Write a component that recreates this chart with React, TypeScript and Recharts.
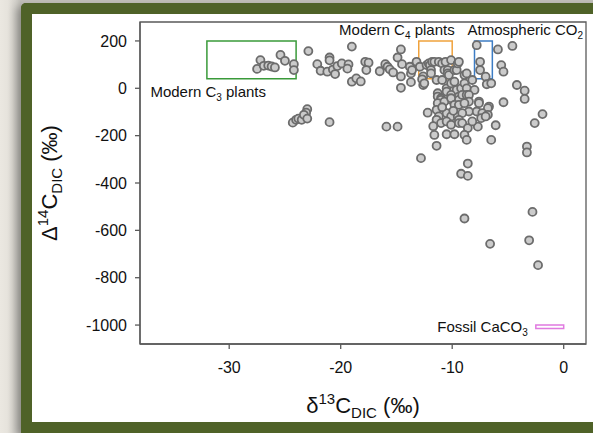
import React from "react";
import {
  ScatterChart,
  Scatter,
  XAxis,
  YAxis,
  ReferenceArea,
  Label,
} from "recharts";

// δ13C_DIC (‰) vs Δ14C_DIC (‰) samples, grouped by where they fall on the plot
const c3RangeSamples: [number, number][] = [
  [-27.5, 82], [-27.2, 119], [-26.9, 95], [-26.5, 96], [-26.2, 92],
  [-25.9, 88], [-25.4, 141], [-25.0, 116], [-24.2, 102], [-24.2, 77],
];

const midRangeSamples: [number, number][] = [
  [-22.9, 157], [-22.1, 102], [-21.8, 74], [-21.0, 130], [-21.0, 118],
  [-21.2, 70], [-20.7, 79], [-20.5, 60], [-20.3, 94], [-19.9, 105],
  [-19.3, 101], [-19.4, 83], [-19.0, 176], [-19.0, 28], [-18.6, 42],
  [-18.2, 29], [-17.8, 112], [-17.5, 108], [-17.7, 77],
];

const depletedLightSamples: [number, number][] = [
  [-24.3, -145], [-24.0, -133], [-23.8, -128], [-23.5, -133], [-23.0, -88],
  [-23.1, -103], [-23.3, -112], [-23.0, -128], [-21.0, -143], [-15.9, -162],
  [-14.9, -162],
];

const upperSamples: [number, number][] = [
  [-16.5, 72], [-16.0, 102], [-15.8, 91], [-15.6, 80], [-15.3, 67],
  [-14.9, 130], [-14.6, 164], [-14.5, 102], [-14.6, 50], [-14.6, 2],
  [-13.8, 91], [-13.7, 63], [-13.7, 26], [-13.2, 112], [-13.6, 77],
];

const c4RangeSamples: [number, number][] = [
  [-12.9, 91], [-12.6, 50], [-12.6, 14], [-12.3, 98], [-12.1, 105],
  [-12.0, 98], [-11.9, 77], [-11.9, 63], [-11.8, 112], [-11.6, 112],
  [-11.4, 35], [-11.2, 112], [-10.9, 105], [-10.9, 35], [-10.7, 77],
  [-10.6, 112], [-10.5, 0], [-10.4, 77], [-10.4, 63], [-10.3, 56],
  [-10.1, 119], [-10.1, 21], [-9.8, 77], [-9.8, 28], [-9.6, 77],
  [-9.6, -7], [-9.5, 105], [-9.4, 112], [-9.2, 0], [-8.9, 56],
  [-8.9, 21], [-8.7, 63], [-8.7, 0], [-8.2, 35], [-8.0, -7],
  [-12.7, 38], [-12.5, 21],
];

const coreSamples: [number, number][] = [
  [-11.3, -21], [-11.3, -35], [-11.0, -42], [-11.0, -49], [-10.5, -14],
  [-10.1, -28], [-10.1, -49], [-9.4, -35], [-9.4, -49], [-9.1, -28],
  [-8.7, -28], [-8.5, -28], [-8.5, -56], [-7.6, -56], [-7.6, -63],
  [-6.7, -77], [-6.8, -84], [-11.3, -63], [-10.7, -56], [-10.1, -42],
  [-9.8, -70], [-9.4, -70], [-8.9, -63], [-8.5, -98], [-7.8, -98],
  [-7.3, -105], [-6.8, -112], [-7.4, -126], [-12.2, -103], [-11.4, -91],
  [-11.2, -119], [-10.5, -105], [-10.1, -119], [-9.5, -119], [-9.1, -105],
  [-11.4, -133], [-11.0, -147], [-10.5, -140], [-10.1, -154], [-9.4, -133],
  [-9.4, -147], [-9.1, -147], [-8.6, -168], [-7.7, -162], [-7.0, -119],
  [-11.6, -197], [-10.5, -194], [-9.8, -194], [-8.9, -197], [-8.7, -218],
  [-11.4, -243], [-12.8, -295], [-8.6, -318], [-10.9, -80], [-9.9, -95],
  [-11.7, -160], [-8.2, -140],
];

const heavySamples: [number, number][] = [
  [-7.8, 182], [-5.9, 164], [-4.6, 179], [-7.5, 112], [-7.5, 77],
  [-7.0, 49], [-6.9, 17], [-6.5, 21], [-5.6, 98], [-5.4, 70],
  [-4.2, 14], [-3.5, -10], [-3.5, -45], [-5.4, -59], [-1.9, -109],
  [-2.6, -147], [-6.1, -156], [-6.5, -218], [-3.3, -246], [-3.3, -271],
];

const deepSamples: [number, number][] = [
  [-9.2, -361], [-8.6, -370], [-2.8, -522], [-8.9, -550],
  [-3.1, -642], [-6.6, -657], [-2.3, -747],
];

// Source end-member boxes: [d13C min, d13C max, D14C min, D14C max]
const c3PlantsBox = [-32, -24, 40, 200];
const c4PlantsBox = [-13, -10, 40, 200];
const atmosphereBox = [-8, -6.4, 40, 200];
const fossilCarbonateBox = [-2.5, 0, -1015, -1000];

const xTicks = [-30, -20, -10, 0];
const yTicks = [-1000, -800, -600, -400, -200, 0, 200];
const xDomain = [-38, 2];
const yDomain = [-1080, 280];

const samples = [
  ...c3RangeSamples,
  ...midRangeSamples,
  ...depletedLightSamples,
  ...upperSamples,
  ...c4RangeSamples,
  ...coreSamples,
  ...heavySamples,
  ...deepSamples,
].map(([d13c, d14c]) => ({ d13c, d14c }));

const FONT = "'Liberation Sans', Arial, Helvetica, sans-serif";
const AXIS_GRAY = "#5a5a5a";
const FRAME_GREEN = "#4f6228";

const SampleDot = (props: any) => {
  const { cx, cy } = props;
  if (cx == null || cy == null) return null;
  return (
    <circle
      cx={cx}
      cy={cy}
      r={4}
      fill="#cbcbcb"
      stroke="#6c6c6c"
      strokeWidth={1.8}
    />
  );
};

// Text with a subscript segment: base + sub + tail
const SubText = ({
  x,
  y,
  anchor,
  base,
  sub,
  tail,
}: {
  x: number;
  y: number;
  anchor: "start" | "end" | "middle";
  base: string;
  sub: string;
  tail: string;
}) => (
  <text
    x={x}
    y={y}
    textAnchor={anchor}
    fontFamily={FONT}
    fontSize={15}
    fill="#111"
  >
    <tspan>{base}</tspan>
    <tspan dy={4} fontSize={10}>
      {sub}
    </tspan>
    <tspan dy={-4}>{tail}</tspan>
  </text>
);

const boxLabel =
  (
    place: (vb: any) => { x: number; y: number },
    anchor: "start" | "end" | "middle",
    base: string,
    sub: string,
    tail: string
  ) =>
  (props: any) => {
    const vb = props.viewBox || { x: 0, y: 0, width: 0, height: 0 };
    const p = place(vb);
    return (
      <SubText x={p.x} y={p.y} anchor={anchor} base={base} sub={sub} tail={tail} />
    );
  };

const XTitle = (props: any) => {
  const vb = props.viewBox || { x: 140, y: 344, width: 446, height: 60 };
  const cx = vb.x + vb.width / 2;
  return (
    <text
      x={cx}
      y={413}
      textAnchor="middle"
      fontFamily={FONT}
      fontSize={22}
      fill="#111"
    >
      <tspan>δ</tspan>
      <tspan dy={-9} fontSize={15}>
        13
      </tspan>
      <tspan dy={9}>C</tspan>
      <tspan dy={5} fontSize={15}>
        DIC
      </tspan>
      <tspan dy={-5}> (‰)</tspan>
    </text>
  );
};

const YTitle = (props: any) => {
  const vb = props.viewBox || { x: 0, y: 22, width: 140, height: 322 };
  const cy = vb.y + vb.height / 2;
  const bx = 57;
  return (
    <text
      x={bx}
      y={cy}
      transform={`rotate(-90 ${bx} ${cy})`}
      textAnchor="middle"
      fontFamily={FONT}
      fontSize={22}
      fill="#111"
    >
      <tspan>Δ</tspan>
      <tspan dy={-9} fontSize={15}>
        14
      </tspan>
      <tspan dy={9}>C</tspan>
      <tspan dy={5} fontSize={15}>
        DIC
      </tspan>
      <tspan dy={-5}> (‰)</tspan>
    </text>
  );
};

export default function App() {
  return (
    <>
      <style>{`html, body { margin: 0; padding: 0; overflow: hidden; }`}</style>
      <div
        style={{
          position: "fixed",
          left: 0,
          top: 0,
          width: 593,
          height: 433,
          overflow: "hidden",
          background:
            "linear-gradient(90deg, #ebe8e1 0px, #e6e3dc 8px, #d2d0ca 16px, #c4c2bc 20px)",
        }}
      >
        {/* olive frame: top, left and bottom edges, open on the right */}
        <div
          style={{
            position: "absolute",
            left: 21,
            top: 3,
            width: 700,
            height: 430,
            boxSizing: "border-box",
            background: "#ffffff",
            borderTop: `11px solid ${FRAME_GREEN}`,
            borderLeft: `11px solid ${FRAME_GREEN}`,
            borderBottom: `11px solid ${FRAME_GREEN}`,
            borderTopLeftRadius: 5,
            boxShadow: "-5px 3px 8px rgba(0,0,0,0.28)",
          }}
        />
        <div style={{ position: "absolute", left: 0, top: 0 }}>
          <ScatterChart
            width={593}
            height={433}
            margin={{ top: 22, right: 7, bottom: 29, left: 0 }}
          >
            <XAxis
              type="number"
              dataKey="d13c"
              domain={xDomain}
              ticks={xTicks}
              allowDataOverflow
              height={60}
              tickSize={5}
              tickMargin={13}
              stroke={AXIS_GRAY}
              strokeWidth={1.3}
              tick={{ fill: "#111", fontSize: 16, fontFamily: FONT }}
            >
              <Label content={XTitle} />
            </XAxis>
            <YAxis
              type="number"
              dataKey="d14c"
              domain={yDomain}
              ticks={yTicks}
              allowDataOverflow
              width={140}
              tickSize={5}
              tickMargin={8}
              stroke={AXIS_GRAY}
              strokeWidth={1.3}
              tick={{ fill: "#111", fontSize: 16, fontFamily: FONT }}
            >
              <Label content={YTitle} />
            </YAxis>
            <ReferenceArea
              x1={xDomain[0]}
              x2={xDomain[1]}
              y1={yDomain[0]}
              y2={yDomain[1]}
              fill="none"
              stroke={AXIS_GRAY}
              strokeWidth={1.3}
              ifOverflow="visible"
            />
            <ReferenceArea
              x1={c3PlantsBox[0]}
              x2={c3PlantsBox[1]}
              y1={c3PlantsBox[2]}
              y2={c3PlantsBox[3]}
              fill="none"
              stroke="#3a9a3a"
              strokeWidth={1.5}
              label={boxLabel(
                (vb) => ({ x: vb.x - 56.5, y: vb.y + vb.height + 18 }),
                "start",
                "Modern C",
                "3",
                " plants"
              )}
            />
            <ReferenceArea
              x1={c4PlantsBox[0]}
              x2={c4PlantsBox[1]}
              y1={c4PlantsBox[2]}
              y2={c4PlantsBox[3]}
              fill="none"
              stroke="#f0a23c"
              strokeWidth={1.5}
              label={boxLabel(
                (vb) => ({ x: vb.x + vb.width + 2.5, y: vb.y - 5.5 }),
                "end",
                "Modern C",
                "4",
                " plants"
              )}
            />
            <ReferenceArea
              x1={atmosphereBox[0]}
              x2={atmosphereBox[1]}
              y1={atmosphereBox[2]}
              y2={atmosphereBox[3]}
              fill="none"
              stroke="#3c7cc4"
              strokeWidth={1.5}
              label={boxLabel(
                (vb) => ({ x: vb.x - 7, y: vb.y - 5.5 }),
                "start",
                "Atmospheric CO",
                "2",
                ""
              )}
            />
            <ReferenceArea
              x1={fossilCarbonateBox[0]}
              x2={fossilCarbonateBox[1]}
              y1={fossilCarbonateBox[2]}
              y2={fossilCarbonateBox[3]}
              fill="none"
              stroke="#e07ae0"
              strokeWidth={1.5}
              label={boxLabel(
                (vb) => ({ x: vb.x - 8, y: vb.y + 7 }),
                "end",
                "Fossil CaCO",
                "3",
                ""
              )}
            />
            <Scatter
              data={samples}
              shape={SampleDot}
              isAnimationActive={false}
            />
          </ScatterChart>
        </div>
      </div>
    </>
  );
}
